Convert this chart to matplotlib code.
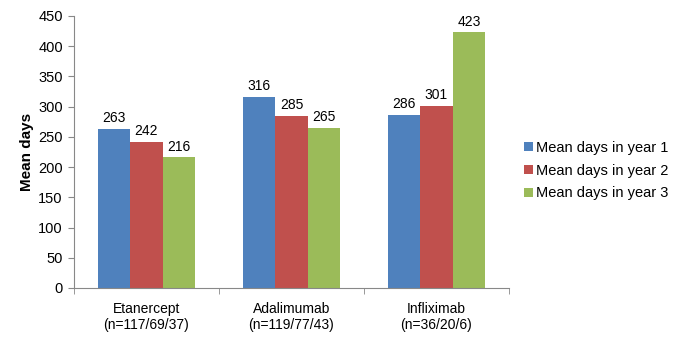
import matplotlib
matplotlib.use("Agg")
import matplotlib.pyplot as plt
import numpy as np
from matplotlib.patches import Patch

categories = ["Etanercept\n(n=117/69/37)", "Adalimumab\n(n=119/77/43)", "Infliximab\n(n=36/20/6)"]
series_names = ["Mean days in year 1", "Mean days in year 2", "Mean days in year 3"]
year1 = [263, 316, 286]
year2 = [242, 285, 301]
year3 = [216, 265, 423]
colors = ["#4F81BD", "#C0504D", "#9BBB59"]
yticks = [0, 50, 100, 150, 200, 250, 300, 350, 400, 450]

plt.rcParams['font.family'] = ['Liberation Sans', 'DejaVu Sans']

fig = plt.figure(figsize=(6.85, 3.38), dpi=100)
ax = fig.add_axes([0.108, 0.148, 0.635, 0.805])

x = np.arange(len(categories))
w = 0.225
for i, (vals, c) in enumerate(zip([year1, year2, year3], colors)):
    pos = x + (i - 1) * w
    ax.bar(pos, vals, width=w, color=c, label=series_names[i])
    for p, v in zip(pos, vals):
        ax.text(p, v + 6, str(v), ha='center', va='bottom', fontsize=10, color='#000000')

ax.set_xlim(-0.5, 2.5)
ax.set_ylim(0, 450)
ax.set_yticks(yticks)
ax.set_yticklabels([str(t) for t in yticks], fontsize=10.5)
ax.set_xticks(x)
ax.set_xticklabels(categories, fontsize=10, linespacing=1.15)
ax.tick_params(axis='x', length=0, pad=10)
ax.set_xticks([-0.5, 0.5, 1.5, 2.5], minor=True)
ax.tick_params(axis='x', which='minor', length=4, color='#888888', direction='out')
ax.tick_params(axis='y', length=4, color='#888888', direction='out', pad=4)

for s in ['top', 'right']:
    ax.spines[s].set_visible(False)
for s in ['left', 'bottom']:
    ax.spines[s].set_color('#888888')
    ax.spines[s].set_linewidth(0.8)

ax.set_ylabel("Mean days", fontsize=11, fontweight='bold', va='center')
ax.yaxis.set_label_coords(-0.108, 0.5)

handles = [Patch(facecolor=c, label=n) for c, n in zip(colors, series_names)]
fig.legend(handles=handles, loc='center left', bbox_to_anchor=(0.765, 0.495),
           frameon=False, fontsize=10.5, handlelength=0.6, handleheight=0.6,
           handletextpad=0.25, labelspacing=0.6, borderpad=0, borderaxespad=0)

fig.savefig("out.png", dpi=100)
